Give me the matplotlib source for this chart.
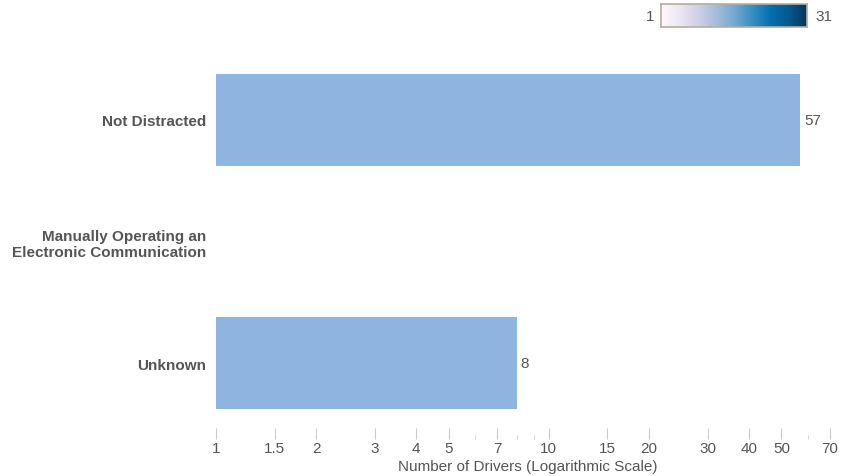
import matplotlib
matplotlib.use('Agg')
import matplotlib.pyplot as plt
import numpy as np
from matplotlib.ticker import FixedLocator, NullFormatter

plt.rcParams['font.family'] = ['Liberation Sans', 'DejaVu Sans']

categories = ['Not Distracted', 'Manually Operating an\nElectronic Communication', 'Unknown']
values = [57, 1, 8]
value_labels = ['57', '', '8']
major_ticks = [1, 1.5, 2, 3, 4, 5, 7, 10, 15, 20, 30, 40, 50, 70]
minor_ticks = [6, 8, 9, 60]
cbar_min, cbar_max = 1, 31

grey = '#555555'
fig = plt.figure(figsize=(8.5, 4.77), dpi=100)
ax = fig.add_axes([216/850, 1-425/477, (840-216)/850, 365/477])

y = np.arange(len(categories))
ax.barh(y, values, height=0.76, left=0, color='#8EB4E0')
for yi, v, lab in zip(y, values, value_labels):
    if lab:
        ax.text(v * 1.025, yi, lab, va='center', ha='left', fontsize=11, color=grey)

ax.set_xscale('log')
ax.set_xlim(1, 75)
ax.set_ylim(2.5, -0.5)
ax.set_yticks(y)
ax.set_yticklabels(categories, fontsize=11, fontweight='bold', color=grey)
ax.tick_params(axis='y', length=0, pad=7)

ax.xaxis.set_major_locator(FixedLocator(major_ticks))
ax.set_xticklabels([str(t) for t in major_ticks])
ax.xaxis.set_minor_locator(FixedLocator(minor_ticks))
ax.xaxis.set_minor_formatter(NullFormatter())
ax.tick_params(axis='x', which='major', length=8, direction='in', color='#cccccc',
               labelsize=11, labelcolor=grey, pad=1)
ax.tick_params(axis='x', which='minor', length=3, direction='in', color='#cccccc')
ax.spines['bottom'].set_position(('outward', 11))
for s in ['top', 'right', 'left', 'bottom']:
    ax.spines[s].set_visible(False)
ax.set_xlabel('Number of Drivers (Logarithmic Scale)', fontsize=11, color=grey, labelpad=3)

# colour scale legend
cax = fig.add_axes([661/850, 1-28/477, (807-661)/850, 23/477])
grad = np.linspace(0, 1, 256)[None, :]
cax.imshow(grad, aspect='auto', cmap='PuBu', extent=[0, 1, 0, 1])
cax.set_xticks([])
cax.set_yticks([])
for s in cax.spines.values():
    s.set_color('#b5ad9e')
    s.set_linewidth(1.2)
fig.text(654/850, 1-17/477, str(cbar_min), ha='right', va='center', fontsize=11, color=grey)
fig.text(815/850, 1-17/477, str(cbar_max), ha='left', va='center', fontsize=11, color=grey)

fig.savefig('out.png', dpi=100)
